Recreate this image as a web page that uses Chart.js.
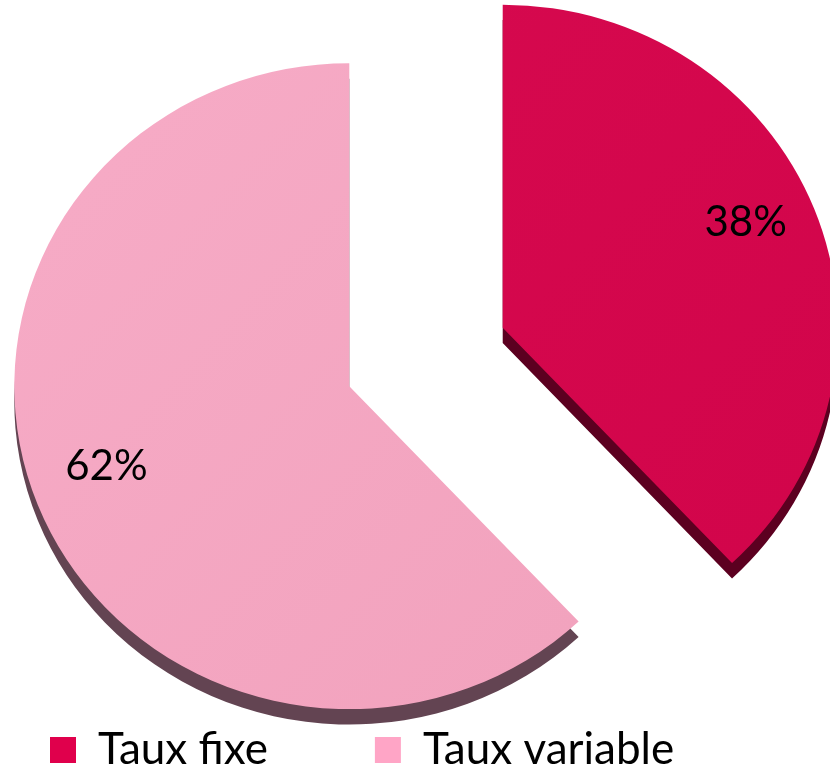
<!DOCTYPE html>
<html>
<head>
<meta charset="utf-8">
<script src="https://cdn.jsdelivr.net/npm/chart.js@4"></script>
<style>
  html, body { margin: 0; padding: 0; background: #fff; }
  #wrap { width: 830px; height: 765px; position: relative; }
</style>
</head>
<body>
<div id="wrap"><canvas id="pie"></canvas></div>
<script>
const labels = ['Taux fixe', 'Taux variable'];
const values = [38, 62];
const lightColors = ['#D70A4F', '#F7ACC7'];
const darkColors = ['#D1044A', '#F1A1BC'];
const sideColors = ['#5C0020', '#634452'];
const legendColors = ['#E0004C', '#FFA5C6'];
const explode = [118, 47];   // px each slice is pulled out along its middle

const TILT = 0.964;     // flatten the disc a little, like the 3D original
const DEPTH = 16;       // thickness of the disc edge
const LABEL_LIFT = 12;  // labels sit a bit high on the tilted faces

function sliceFill(c) {
  const area = c.chart.chartArea;
  const i = c.dataIndex;
  if (!area) return lightColors[i];
  const g = c.chart.ctx.createLinearGradient(area.left, area.top - 100, area.right, area.bottom + 100);
  g.addColorStop(0, lightColors[i]);
  g.addColorStop(1, darkColors[i]);
  return g;
}

function drawArc(ctx, arc, dx, dy, color) {
  const opts = arc.options;
  if (color) arc.options = Object.assign({}, opts, {backgroundColor: color});
  ctx.save();
  ctx.translate(dx, dy);
  arc.draw(ctx);
  ctx.restore();
  arc.options = opts;
}

// exploded, slightly tilted pie with a dark rim underneath
const pie3d = {
  id: 'pie3d',
  beforeDatasetsDraw(chart) {
    const ctx = chart.ctx;
    const arcs = chart.getDatasetMeta(0).data;
    const {x, y} = arcs[0];
    ctx.save();
    ctx.translate(x, y);
    ctx.scale(1, TILT);
    ctx.translate(-x, -y);
    const moves = arcs.map((arc, i) => {
      const mid = (arc.startAngle + arc.endAngle) / 2;
      return [Math.cos(mid) * explode[i], Math.sin(mid) * explode[i]];
    });
    arcs.forEach((arc, i) => drawArc(ctx, arc, moves[i][0], moves[i][1] + DEPTH, sideColors[i]));
    arcs.forEach((arc, i) => drawArc(ctx, arc, moves[i][0], moves[i][1]));
    ctx.restore();
  },
  beforeDatasetDraw() {
    return false;
  },
  afterDatasetsDraw(chart) {
    const ctx = chart.ctx;
    const arcs = chart.getDatasetMeta(0).data;
    ctx.save();
    ctx.font = '42px Lato';
    ctx.fillStyle = '#000';
    ctx.textAlign = 'center';
    ctx.textBaseline = 'middle';
    arcs.forEach((arc, i) => {
      const mid = (arc.startAngle + arc.endAngle) / 2;
      const d = explode[i] + arc.outerRadius * 0.78;
      ctx.fillText(values[i] + '%', arc.x + Math.cos(mid) * d, arc.y + Math.sin(mid) * d * TILT - LABEL_LIFT);
    });
    ctx.restore();
  }
};

new Chart(document.getElementById('pie'), {
  type: 'pie',
  data: {
    labels: labels,
    datasets: [{
      data: values,
      backgroundColor: sliceFill,
      borderWidth: 0,
      radius: 335,
      clip: false
    }]
  },
  options: {
    responsive: true,
    maintainAspectRatio: false,
    animation: false,
    events: [],
    layout: { padding: { left: -57, right: 44, top: 118, bottom: -17 } },
    plugins: {
      tooltip: { enabled: false },
      legend: {
        position: 'bottom',
        align: 'start',
        labels: {
          boxWidth: 26,
          boxHeight: 26,
          padding: 107,
          color: '#000',
          font: { family: 'Lato', size: 44 },
          generateLabels: () => labels.map((text, i) => ({
            text: text,
            fillStyle: legendColors[i],
            strokeStyle: legendColors[i],
            lineWidth: 0,
            hidden: false,
            index: i
          }))
        }
      }
    }
  },
  plugins: [pie3d]
});
</script>
</body>
</html>
